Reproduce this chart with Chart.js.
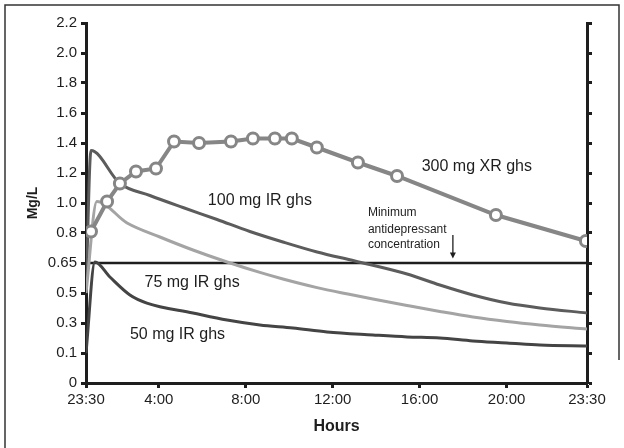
<!DOCTYPE html>
<html>
<head>
<meta charset="utf-8">
<script src="https://cdn.jsdelivr.net/npm/chart.js@4.4.1/dist/chart.umd.min.js"></script>
<style>
  html, body { margin: 0; padding: 0; background: #fff; }
</style>
</head>
<body>
<canvas id="chart" width="624" height="448"></canvas>
<script>
// y axis: labels are evenly spaced although the values are not
const yTickValues = [0, 0.1, 0.3, 0.5, 0.65, 0.8, 1.0, 1.2, 1.4, 1.6, 1.8, 2.0, 2.2];
const yTickLabels = ['0', '0.1', '0.3', '0.5', '0.65', '0.8', '1.0', '1.2', '1.4', '1.6', '1.8', '2.0', '2.2'];

// x axis, in hours along the axis
const xTickHours = [0, 3.35, 7.35, 11.35, 15.35, 19.35, 23.05];
const xTickLabels = ['23:30', '4:00', '8:00', '12:00', '16:00', '20:00', '23:30'];

const minConc = 0.65;

// 300 mg XR ghs
const xrHours = [0.23, 0.97, 1.56, 2.30, 3.22, 4.05, 5.20, 6.67, 7.68, 8.69, 9.47, 10.62, 12.51, 14.31, 18.86, 23.0];
const xrMgL   = [0.81, 1.01, 1.13, 1.21, 1.23, 1.41, 1.40, 1.41, 1.43, 1.43, 1.43, 1.37, 1.27, 1.18, 0.92, 0.76];

// 100 mg IR ghs
const ir100Hours = [0, 0.23, 1.56, 2.94, 4.46, 6.03, 7.54, 9.06, 10.63, 12.37, 14.77, 16.28, 17.8, 19.37, 20.88, 23.05];
const ir100MgL   = [0.5, 1.35, 1.13, 1.05, 0.97, 0.89, 0.81, 0.755, 0.705, 0.66, 0.595, 0.54, 0.487, 0.433, 0.4, 0.367];

// 75 mg IR ghs
const ir75Hours = [0, 0.5, 1.89, 3.4, 4.92, 6.49, 8.0, 9.06, 10.63, 12.05, 13.2, 14.77, 16.28, 17.8, 19.37, 20.88, 23.05];
const ir75MgL   = [0.5, 1.01, 0.867, 0.78, 0.715, 0.655, 0.603, 0.57, 0.527, 0.493, 0.46, 0.417, 0.377, 0.34, 0.31, 0.287, 0.26];

// 50 mg IR ghs
const ir50Hours = [0, 0.41, 1.1, 2.02, 2.8, 4.92, 6.49, 8.0, 9.52, 11.09, 13.2, 14.77, 16.28, 17.8, 19.37, 20.88, 23.05];
const ir50MgL   = [0.1, 0.655, 0.58, 0.487, 0.433, 0.367, 0.32, 0.287, 0.267, 0.24, 0.22, 0.207, 0.2, 0.18, 0.167, 0.153, 0.147];

// mg/L -> position on the (evenly spaced) y axis
function toAxis(v) {
    for (let i = 1; i < yTickValues.length; i++) {
        if (v <= yTickValues[i]) {
            const a = yTickValues[i - 1], b = yTickValues[i];
            return i - 1 + (v - a) / (b - a);
        }
    }
    return yTickValues.length - 1;
}

function points(hours, vals) {
    return hours.map((h, i) => ({ x: h, y: toAxis(vals[i]) }));
}

const SANS = '"Liberation Sans", Arial, sans-serif';
const INK = '#1e1e1e';

// frame + text labels on the plot
const notes = {
    id: 'notes',
    beforeDraw(chart) {
        const ctx = chart.ctx;
        ctx.save();
        ctx.fillStyle = '#fff';
        ctx.fillRect(0, 0, chart.width, chart.height);
        ctx.strokeStyle = '#333';
        ctx.lineWidth = 1.5;
        ctx.beginPath();
        ctx.moveTo(5, chart.height);
        ctx.lineTo(5, 5);
        ctx.lineTo(chart.width - 5, 5);
        ctx.lineTo(chart.width - 5, 360);
        ctx.stroke();
        ctx.restore();
    },
    afterDatasetsDraw(chart) {
        const { ctx, scales: { x, y } } = chart;
        const px = h => x.getPixelForValue(h);
        const py = v => y.getPixelForValue(toAxis(v));
        ctx.save();
        ctx.fillStyle = INK;
        ctx.textBaseline = 'middle';
        ctx.textAlign = 'center';
        ctx.font = '16px ' + SANS;
        ctx.fillText('300 mg XR ghs', px(17.98), py(1.246));
        ctx.fillText('100 mg IR ghs', px(8.0), py(1.014));
        ctx.fillText('75 mg IR ghs', px(4.88), py(0.55));
        ctx.fillText('50 mg IR ghs', px(4.21), py(0.226));

        ctx.textAlign = 'left';
        ctx.font = '12px ' + SANS;
        ctx.fillText('Minimum', px(12.97), py(0.934));
        ctx.fillText('antidepressant', px(12.97), py(0.82));
        ctx.fillText('concentration', px(12.97), py(0.74));

        // arrow down to the 0.65 line
        const ax = px(16.88), y0 = py(0.79), y1 = py(0.672);
        ctx.strokeStyle = INK;
        ctx.lineWidth = 1.3;
        ctx.beginPath();
        ctx.moveTo(ax, y0);
        ctx.lineTo(ax, y1 - 4);
        ctx.stroke();
        ctx.beginPath();
        ctx.moveTo(ax - 3, y1 - 6);
        ctx.lineTo(ax + 3, y1 - 6);
        ctx.lineTo(ax, y1);
        ctx.closePath();
        ctx.fill();
        ctx.restore();
    }
};

const yScaleBase = {
    type: 'linear',
    min: 0,
    max: yTickValues.length - 1,
    grid: { drawOnChartArea: false, drawTicks: true, tickLength: 5, tickWidth: 3, tickColor: INK },
    border: { color: INK, width: 3 }
};

new Chart(document.getElementById('chart'), {
    type: 'line',
    data: {
        datasets: [
            {
                label: '300 mg XR ghs',
                data: points(xrHours, xrMgL),
                borderColor: '#868686',
                borderWidth: 4,
                pointRadius: 5.5,
                pointBorderWidth: 3,
                pointBackgroundColor: '#fff',
                pointBorderColor: '#868686',
                tension: 0
            },
            {
                label: '50 mg IR ghs',
                data: points(ir50Hours, ir50MgL),
                borderColor: '#444',
                borderWidth: 3,
                pointRadius: 0,
                cubicInterpolationMode: 'monotone'
            },
            {
                label: '75 mg IR ghs',
                data: points(ir75Hours, ir75MgL),
                borderColor: '#a4a4a4',
                borderWidth: 3,
                pointRadius: 0,
                cubicInterpolationMode: 'monotone'
            },
            {
                label: '100 mg IR ghs',
                data: points(ir100Hours, ir100MgL),
                borderColor: '#5c5c5c',
                borderWidth: 3,
                pointRadius: 0,
                cubicInterpolationMode: 'monotone'
            },
            {
                label: 'Minimum antidepressant concentration',
                data: [{ x: xTickHours[0], y: toAxis(minConc) }, { x: xTickHours[xTickHours.length - 1], y: toAxis(minConc) }],
                borderColor: INK,
                borderWidth: 2.5,
                pointRadius: 0
            }
        ]
    },
    options: {
        responsive: false,
        animation: false,
        layout: { padding: { top: 23, left: 0, right: 0, bottom: 0 } },
        plugins: { legend: { display: false }, tooltip: { enabled: false } },
        scales: {
            x: {
                type: 'linear',
                min: xTickHours[0],
                max: xTickHours[xTickHours.length - 1],
                afterBuildTicks: s => { s.ticks = xTickHours.map(v => ({ value: v })); },
                afterFit: s => { s.height = 65; },
                ticks: {
                    callback: (v, i) => xTickLabels[i],
                    autoSkip: false, maxRotation: 0, padding: 3,
                    color: INK, font: { family: SANS, size: 15 }
                },
                grid: { drawOnChartArea: false, drawTicks: true, tickLength: 5, tickWidth: 3, tickColor: INK },
                border: { color: INK, width: 3 },
                title: {
                    display: true, text: 'Hours', color: INK,
                    font: { family: SANS, size: 16, weight: 'bold' },
                    padding: { top: 0, bottom: 12 }
                }
            },
            y: {
                ...yScaleBase,
                position: 'left',
                afterFit: s => { s.width = 86; },
                ticks: {
                    stepSize: 1, padding: 4, color: INK,
                    font: { family: SANS, size: 15 },
                    callback: v => yTickLabels[v]
                },
                title: {
                    display: true, text: 'Mg/L', color: INK,
                    font: { family: SANS, size: 14, weight: 'bold' },
                    padding: { top: 25, bottom: 0 }
                }
            },
            y2: {
                ...yScaleBase,
                position: 'right',
                afterFit: s => { s.width = 37; },
                ticks: { stepSize: 1, display: false }
            }
        }
    },
    plugins: [notes]
});
</script>
</body>
</html>
